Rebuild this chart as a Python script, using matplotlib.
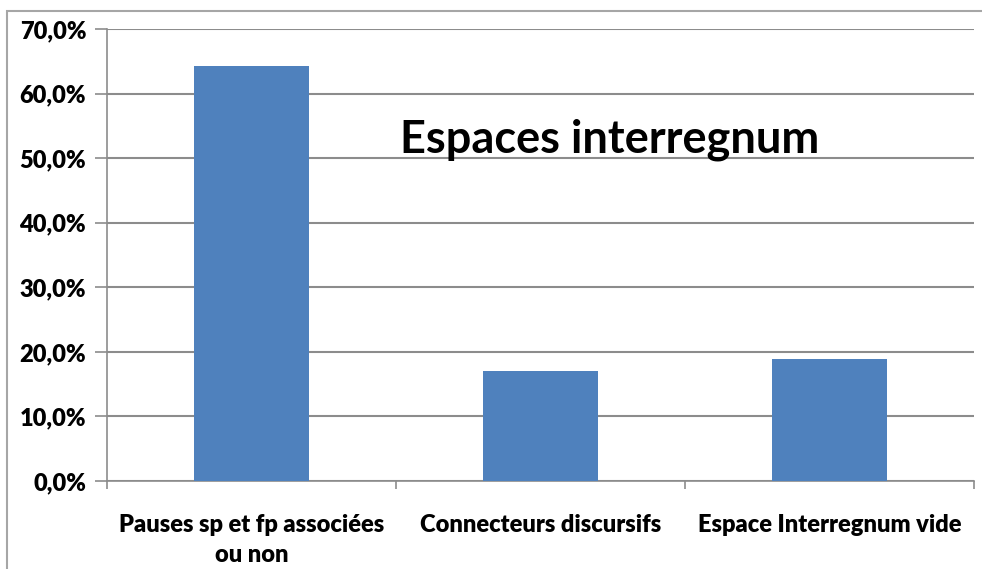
import matplotlib
matplotlib.use("Agg")
import matplotlib.pyplot as plt
from matplotlib.patches import Rectangle
from matplotlib.ticker import FuncFormatter, MultipleLocator

categories = ["Pauses sp et fp associées\nou non", "Connecteurs discursifs", "Espace Interregnum vide"]
values = [64.2, 17.0, 18.9]
title = "Espaces interregnum"

plt.rcParams['font.family'] = ['Lato', 'DejaVu Sans']
plt.rcParams['font.weight'] = 'heavy'

W, H = 982, 569
fig = plt.figure(figsize=(W/100, H/100), dpi=100)
# outer chart border
fig.patches.append(Rectangle((7/W, -0.1), 1.2, (H - 11)/H + 0.1, transform=fig.transFigure,
                             fill=False, edgecolor='#a6a6a6', linewidth=1.5))

ax = fig.add_axes([107/W, 1 - 481/H, (974-107)/W, (481-29)/H])
x = list(range(len(categories)))
ax.bar(x, values, width=0.4, color='#4f81bd', zorder=3)
ax.set_xlim(-0.5, len(categories) - 0.5)
ax.set_ylim(0, 70)
ax.yaxis.set_major_locator(MultipleLocator(10))
ax.yaxis.set_major_formatter(FuncFormatter(lambda v, p: f"{v:.1f}%".replace('.', ',')))
ax.grid(axis='y', color='#8c8c8c', linewidth=1.5, zorder=0)
for s in ['top', 'right']:
    ax.spines[s].set_visible(False)
for s in ['left', 'bottom']:
    ax.spines[s].set_color('#8c8c8c')
    ax.spines[s].set_linewidth(1.2)
ax.set_xticks([-0.5, 0.5, 1.5, 2.5])
ax.set_xticklabels([])
ax.set_xticks(x, minor=True)
ax.set_xticklabels(categories, minor=True, fontsize=17, fontweight='heavy', linespacing=1.45)
ax.tick_params(axis='x', which='major', length=6, color='#8c8c8c', width=1.2, direction='out')
ax.tick_params(axis='x', which='minor', length=0, pad=24)
ax.tick_params(axis='y', length=9, color='#8c8c8c', width=1.2, labelsize=17, pad=6)
ax.text(610/W, 1 - 140/H, title, transform=fig.transFigure, ha='center', va='center',
        fontsize=32.5, fontweight='bold')

fig.savefig("out.png", dpi=100)
